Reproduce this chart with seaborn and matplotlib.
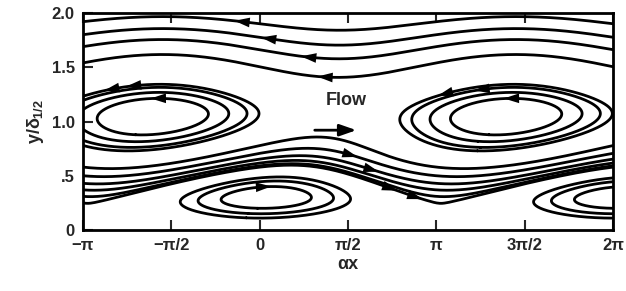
import numpy as np
import matplotlib.pyplot as plt
import seaborn as sns
import contourpy

# Eddy (critical layer) parameters: upper, lower
eddy_x = [-1.9, 0.1]
eddy_y = [1.05, 0.27]
eddy_amp = [0.026, 0.005]
shear = 1.0
top_speed = 0.20

# where the drawn streamlines cross a vertical line
top_line_y = [1.92, 1.80, 1.69, 1.54]              # at x = -pi
mid_line_y = [0.58, 0.50, 0.43, 0.37, 0.31, 0.25]  # at x = pi
upper_loop_y = [0.88, 0.82, 0.77, 0.74]            # below upper eddy centre
lower_loop_y = [0.20, 0.15, 0.11]                  # below lower eddy centre

# arrow heads (x, y) as seen in the figure
arrow_x = [-0.35, 0.13, 0.84, 1.13, -3.05, -2.66, -2.27, -1.83, 3.26, 3.92, 4.45,
           1.64, 2.0, 2.32, 2.73, 0.10]
arrow_y = [1.91, 1.76, 1.59, 1.40, 1.50, 1.31, 1.32, 1.24, 1.29, 1.29, 1.24,
           0.69, 0.53, 0.34, 0.20, 0.41]

xtick_vals = [-np.pi, -np.pi / 2, 0, np.pi / 2, np.pi, 3 * np.pi / 2, 2 * np.pi]
xtick_labels = ["\u2212\u03c0", "\u2212\u03c0/2", "0", "\u03c0/2", "\u03c0", "3\u03c0/2", "2\u03c0"]
ytick_vals = [0, 0.5, 1.0, 1.5, 2.0]
ytick_labels = ["0", ".5", "1.0", "1.5", "2.0"]

y_up, y_lo = eddy_y
a_up, a_lo = eddy_amp
ph_up, ph_lo = eddy_x[0] + np.pi, eddy_x[1]

# base velocity profile and its stream function
yf = np.linspace(0, 2, 4001)
U = shear * (yf - y_lo) * (y_up - yf)
U = np.where(yf < y_lo, U * yf / y_lo, U)
U = np.where(yf > y_up, top_speed * np.tanh(U / top_speed), U)
psi0 = np.concatenate([[0], np.cumsum((U[1:] + U[:-1]) / 2 * np.diff(yf))])


def wave(y):
    w = np.where(y > y_up, 1.0, 0.7)
    amp = a_up * np.exp(-((y - y_up) / w) ** 2) + a_lo * np.exp(-((y - y_lo) / 0.25) ** 2)
    t = (y - y_lo) / (y_up - y_lo)
    t = 0.5 + 0.5 * np.tanh(2 * (t - 0.5)) / np.tanh(1)
    phase = ph_lo + (ph_up - ph_lo) * t
    return amp, phase


def stream(x, y):
    amp, phase = wave(y)
    return np.interp(y, yf, psi0) - amp * np.cos(x - phase)


sns.set_theme(style="ticks")
plt.rcParams["font.family"] = ["Liberation Sans", "DejaVu Sans"]
plt.rcParams["font.weight"] = "bold"
plt.rcParams["mathtext.fontset"] = "custom"
plt.rcParams["mathtext.rm"] = "Liberation Sans:bold"
plt.rcParams["mathtext.it"] = "Liberation Sans:bold"

fig = plt.figure(figsize=(6.26, 2.91), dpi=100)
ax = fig.add_axes([0.1326, 0.2096, 0.8466, 0.7457])

xg = np.linspace(-np.pi, 2 * np.pi, 900)
yg = np.linspace(0, 2, 500)
X, Y = np.meshgrid(xg, yg)
gen = contourpy.contour_generator(xg, yg, stream(X, Y))

groups = [
    ([stream(-np.pi, v) for v in top_line_y], y_up, 2.1),
    ([stream(np.pi, v) for v in mid_line_y], y_lo, y_up),
    ([stream(eddy_x[0], v) for v in upper_loop_y], y_up - 0.4, y_up + 0.4),
    ([stream(eddy_x[1], v) for v in lower_loop_y], -0.1, y_lo + 0.3),
]
drawn = []
for levels, lo, hi in groups:
    for lev in levels:
        for seg in gen.lines(lev):
            if lo < seg[:, 1].mean() < hi:
                ax.plot(seg[:, 0], seg[:, 1], color="black", lw=2.0,
                        solid_capstyle="round")
                drawn.append(seg)

# arrow heads snapped to the nearest streamline, pointing along the flow
sx, sy = 56.2, 108.5  # pixels per data unit
pts = np.vstack(drawn)
h = 1e-4
for tx, ty in zip(arrow_x, arrow_y):
    d = ((pts[:, 0] - tx) * sx) ** 2 + ((pts[:, 1] - ty) * sy) ** 2
    px, py = pts[np.argmin(d)]
    u = (stream(px, py + h) - stream(px, py - h)) / (2 * h)
    v = -(stream(px + h, py) - stream(px - h, py)) / (2 * h)
    dxp, dyp = u * sx, v * sy
    n = np.hypot(dxp, dyp)
    dxp, dyp = dxp / n, dyp / n
    L = 6
    ax.annotate("", xy=(px + dxp * L / sx, py + dyp * L / sy),
                xytext=(px - dxp * L / sx, py - dyp * L / sy),
                arrowprops=dict(arrowstyle="-|>,head_length=1.1,head_width=0.35",
                                color="black", lw=0, shrinkA=0, shrinkB=0,
                                mutation_scale=10))

ax.text(1.54, 1.19, "Flow", ha="center", va="center", fontsize=13, fontweight="bold")
ax.annotate("", xy=(1.72, 0.92), xytext=(0.98, 0.92),
            arrowprops=dict(arrowstyle="-|>,head_length=1.0,head_width=0.35",
                            color="black", lw=2, shrinkA=0, shrinkB=0,
                            mutation_scale=10))

ax.set_xlim(-np.pi, 2 * np.pi)
ax.set_ylim(0, 2)
ax.set_xticks(xtick_vals, xtick_labels)
ax.set_yticks(ytick_vals, ytick_labels)
ax.tick_params(direction="in", length=7, width=1.5, top=True, right=False,
               labelsize=12, pad=6)
for lab in ax.get_xticklabels() + ax.get_yticklabels():
    lab.set_fontweight("bold")
for sp in ax.spines.values():
    sp.set_linewidth(2.0)
    sp.set_color("black")
ax.set_xlabel("\u03b1x", fontsize=13, fontweight="bold", labelpad=2)
ax.set_ylabel(r"y/$\delta_{1/2}$", fontsize=13, fontweight="bold", labelpad=4)

fig.savefig("out.png", dpi=100)
